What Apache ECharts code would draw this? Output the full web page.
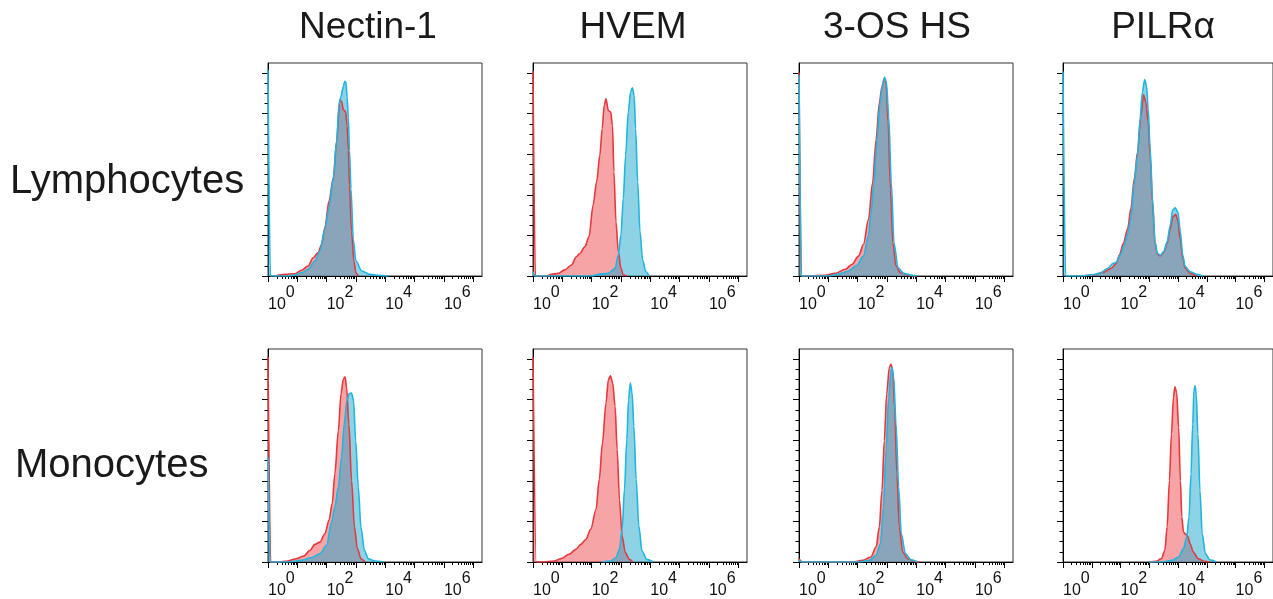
<!DOCTYPE html>
<html>
<head>
<meta charset="utf-8">
<script src="https://cdn.jsdelivr.net/npm/echarts@6/dist/echarts.min.js"></script>
<style>
  html, body { margin: 0; padding: 0; background: #fff; }
  #chart { width: 1273px; height: 599px; }
</style>
</head>
<body>
<div id="chart"></div>
<script>
// labels
const columns = ['Nectin-1', 'HVEM', '3-OS HS', 'PILRα'];
const rows = ['Lymphocytes', 'Monocytes'];
const decadeLabels = [0, 2, 4, 6];
const yMajorTicks = [0, 20, 40, 60, 80, 100];

// histograms: [log10 intensity, % of max]
const nectinLymRed = [[0.23,0],[0.57,0.8],[0.91,1.1],[1.14,2.8],[1.37,4.9],[1.54,9],[1.71,11.5],[1.83,15.6],[1.94,23.8],[2.08,36.9],[2.23,48.4],[2.34,66.4],[2.45,86.9],[2.51,86],[2.57,82],[2.65,81],[2.7,74],[2.74,62],[2.78,45],[2.85,22],[2.93,7.4],[3.0,1.5],[3.08,0]];
const nectinLymCyan = [[0,101.6],[0.08,0],[0.68,0],[0.91,0.5],[1.14,1.6],[1.37,3.3],[1.6,7.4],[1.77,12.3],[1.94,23],[2.08,33.6],[2.23,48.4],[2.34,66.4],[2.42,84.4],[2.49,88.5],[2.57,93.4],[2.62,96],[2.66,95.5],[2.7,88],[2.74,78],[2.78,62],[2.83,43],[2.91,18],[3.0,7.4],[3.2,2.5],[3.48,0.8],[3.88,0.2],[4.1,0]];

const hvemLymRed = [[0,101],[0.08,0],[0.46,0],[0.63,0.8],[0.86,1.3],[1.08,3],[1.31,5.4],[1.48,9.5],[1.6,11.1],[1.77,14.4],[1.91,19.3],[2.05,34.9],[2.17,46.4],[2.28,59.5],[2.36,72.6],[2.43,84.1],[2.49,87.4],[2.57,81.6],[2.65,80.8],[2.71,74.3],[2.76,51.3],[2.83,26.7],[2.91,12],[3.0,3.8],[3.08,0.5],[3.2,0]];
const hvemLymCyan = [[0,2],[0.06,0],[2.0,0],[2.23,0.8],[2.57,1.3],[2.8,3.8],[2.91,10.3],[3.0,20.2],[3.08,38.2],[3.16,59.5],[3.25,80.8],[3.33,90.7],[3.39,92.8],[3.45,89],[3.5,72.6],[3.57,46.4],[3.65,21.8],[3.74,7.9],[3.85,2.1],[3.96,0]];

const os3LymRed = [[0,100.3],[0.08,0],[0.89,0.3],[1.23,1.3],[1.58,3.3],[1.8,5.7],[2.03,9.8],[2.2,15.6],[2.37,27.9],[2.51,45.9],[2.63,67.2],[2.74,85.2],[2.83,93.4],[2.91,97.5],[2.97,95],[3.04,75.4],[3.12,42.6],[3.2,16.4],[3.31,4.9],[3.46,1.6],[3.74,0.3],[3.97,0]];
const os3LymCyan = [[0,99],[0.08,0],[1.0,0],[1.35,1],[1.69,2.5],[1.97,5.2],[2.2,9.8],[2.37,20],[2.45,30],[2.55,45],[2.66,67],[2.76,85],[2.84,93],[2.92,97.9],[2.98,95.9],[3.06,78.7],[3.15,45.9],[3.24,16.4],[3.38,4.1],[3.57,1.3],[3.86,0.3],[4.03,0]];

const pilrLymRed = [[0.71,0],[1.05,0.5],[1.39,1.8],[1.68,3.8],[1.85,6.2],[1.96,10.3],[2.1,16.1],[2.25,23.4],[2.36,33.3],[2.48,48],[2.59,61.1],[2.71,79.2],[2.8,89.3],[2.88,85.7],[2.96,75.9],[3.03,59.5],[3.11,36.6],[3.2,16.1],[3.28,10.7],[3.39,10],[3.5,11.6],[3.62,16.1],[3.73,23.4],[3.82,29.2],[3.92,30.3],[3.99,27.5],[4.08,17.7],[4.16,8.7],[4.25,3.8],[4.42,1.3],[4.65,0]];
const pilrLymCyan = [[0,100.8],[0.09,0],[0.59,0],[0.94,0.5],[1.28,1.3],[1.56,3.8],[1.74,6.2],[1.85,6.7],[1.99,10.3],[2.13,15.2],[2.25,21],[2.36,28.4],[2.48,46.4],[2.59,59.5],[2.67,75.9],[2.76,90.7],[2.84,96.9],[2.9,93.9],[2.96,82.5],[3.03,62.8],[3.11,38.2],[3.2,16.9],[3.28,11.1],[3.39,10.3],[3.5,12],[3.62,16.9],[3.73,25.1],[3.81,32.5],[3.9,33.6],[3.99,31.6],[4.08,21.8],[4.16,10.3],[4.25,4.6],[4.42,2.1],[4.65,0.8],[4.87,0]];

const nectinMonRed = [[0,101],[0.09,0],[0.34,0],[0.68,0.5],[0.97,1.6],[1.2,2.8],[1.43,5.7],[1.6,8.7],[1.77,9.8],[1.94,13.9],[2.08,20.5],[2.19,28.7],[2.28,43.4],[2.4,64.8],[2.49,82.8],[2.57,90.2],[2.63,91.3],[2.68,86.1],[2.76,68],[2.85,40.2],[2.95,17.2],[3.05,6.6],[3.17,1.6],[3.31,0]];
const nectinMonCyan = [[0,51.6],[0.07,0],[0.68,0],[1.14,0.8],[1.48,2.1],[1.77,4.1],[2.0,8.2],[2.17,19.7],[2.28,27],[2.4,36.9],[2.51,51.6],[2.6,68],[2.69,79.5],[2.77,83.1],[2.85,83.3],[2.92,79.5],[2.99,59.8],[3.08,36.9],[3.17,17.2],[3.29,5.7],[3.42,1.6],[3.65,0.5],[3.94,0]];

const hvemMonRed = [[0,101],[0.11,0],[0.32,0],[0.72,0.5],[0.95,1.6],[1.23,3.8],[1.46,6.2],[1.63,8.7],[1.8,11.1],[1.97,16.1],[2.15,25.9],[2.26,40.7],[2.37,58.7],[2.49,78.4],[2.57,89.8],[2.64,91.8],[2.72,88.2],[2.8,76.7],[2.87,55.4],[2.95,30.8],[3.04,12.8],[3.15,4.6],[3.29,1.3],[3.4,0]];
const hvemMonCyan = [[2.37,0],[2.66,0.5],[2.83,2.1],[2.95,6.2],[3.04,16.1],[3.12,35.7],[3.2,60.3],[3.26,80],[3.32,88.2],[3.38,83.3],[3.44,66.9],[3.52,40.7],[3.61,17.7],[3.72,5.4],[3.88,1.3],[4.09,0]];

const os3MonRed = [[0,1.6],[0.11,0],[1.83,0],[2.17,0.8],[2.45,2.5],[2.63,7.4],[2.74,17.2],[2.83,35.2],[2.91,59.8],[2.99,82.8],[3.08,95.9],[3.14,97.5],[3.2,94.3],[3.26,76.2],[3.34,43.4],[3.42,17.2],[3.54,4.9],[3.71,1.6],[3.94,0.3],[4.11,0]];
const os3MonCyan = [[0,0.8],[0.09,0],[2.05,0],[2.4,0.8],[2.63,3.3],[2.78,9],[2.88,27],[2.97,54.9],[3.06,81.1],[3.13,93.4],[3.17,95.9],[3.23,91],[3.31,68],[3.4,36.9],[3.49,13.9],[3.63,4.1],[3.82,1.1],[4.05,0]];

const pilrMonRed = [[2.99,0],[3.22,0.3],[3.42,1.6],[3.54,5.7],[3.62,17.2],[3.7,40.2],[3.77,63.1],[3.84,81.1],[3.89,86.4],[3.95,83.6],[4.02,66.4],[4.08,40.2],[4.13,22.1],[4.19,14.8],[4.27,13.6],[4.34,12.6],[4.42,9],[4.53,4.9],[4.7,1.6],[4.93,0.3],[5.1,0]];
const pilrMonCyan = [[2.99,0],[3.45,0],[3.79,0.8],[4.02,2.5],[4.19,6.6],[4.3,12.3],[4.38,22.1],[4.45,43.4],[4.51,68],[4.55,84.4],[4.59,86.9],[4.63,82.8],[4.69,63.1],[4.76,35.2],[4.84,13.9],[4.95,4.1],[5.1,1.1],[5.33,0]];

const panels = [
  [nectinLymRed, nectinLymCyan], [hvemLymRed, hvemLymCyan], [os3LymRed, os3LymCyan], [pilrLymRed, pilrLymCyan],
  [nectinMonRed, nectinMonCyan], [hvemMonRed, hvemMonCyan], [os3MonRed, os3MonCyan], [pilrMonRed, pilrMonCyan]
];

// layout
const colLeft = [268, 533, 799, 1063];
const rowTop = [63, 349];
const boxW = 214, boxH = 213;
const xMax = 7.3, yMax = 105;
const FONT = '"Liberation Sans", Arial, Helvetica, sans-serif';

const xMajor = [0, 1, 2, 3, 4, 5, 6, 7];
const xMinor = [];
for (let n = 0; n < 7; n++) for (let k = 2; k <= 9; k++) xMinor.push(n + Math.log10(k));
const yMinor = [];
for (let v = 5; v < 100; v += 5) if (v % 20) yMinor.push(v);

const RED = '#e8383d', RED_FILL = 'rgba(238,64,72,0.48)';
const CYAN = '#1fb6e0', CYAN_FILL = 'rgba(30,165,205,0.5)';

const grid = [], xAxis = [], yAxis = [], series = [];
panels.forEach((p, i) => {
  const r = Math.floor(i / 4), c = i % 4;
  grid.push({ left: colLeft[c], top: rowTop[r], width: boxW, height: boxH,
    show: true, borderColor: '#333', borderWidth: 1, backgroundColor: 'transparent' });
  const base = { type: 'value', gridIndex: i, min: 0, max: xMax, position: 'bottom', splitLine: { show: false } };
  xAxis.push(Object.assign({}, base, {
    axisLine: { show: true, onZero: false, lineStyle: { color: '#000', width: 1 } },
    axisTick: { show: true, customValues: xMajor, length: 6, lineStyle: { color: '#000' } },
    axisLabel: {
      show: true, customValues: decadeLabels, align: 'left', margin: 9,
      formatter: v => '{b|10}{s|' + v + '}',
      rich: {
        b: { fontFamily: FONT, fontSize: 16, color: '#111', lineHeight: 39 },
        s: { fontFamily: FONT, fontSize: 16, color: '#111', lineHeight: 15, verticalAlign: 'top' }
      }
    }
  }));
  xAxis.push(Object.assign({}, base, {
    axisLine: { show: false },
    axisTick: { show: true, customValues: xMinor, length: 3, lineStyle: { color: '#000' } },
    axisLabel: { show: false }
  }));
  const ybase = { type: 'value', gridIndex: i, min: 0, max: yMax, position: 'left', splitLine: { show: false }, axisLabel: { show: false } };
  yAxis.push(Object.assign({}, ybase, {
    axisLine: { show: true, onZero: false, lineStyle: { color: '#000', width: 1 } },
    axisTick: { show: true, customValues: yMajorTicks, length: 6, lineStyle: { color: '#000' } }
  }));
  yAxis.push(Object.assign({}, ybase, {
    axisLine: { show: false },
    axisTick: { show: true, customValues: yMinor, length: 3.5, lineStyle: { color: '#000' } }
  }));
  [[p[0], RED, RED_FILL], [p[1], CYAN, CYAN_FILL]].forEach(([data, line, fill]) => {
    series.push({
      type: 'line', xAxisIndex: i * 2, yAxisIndex: i * 2, data: data,
      smooth: 0.3, smoothMonotone: 'x', showSymbol: false, symbol: 'none',
      lineStyle: { color: line, width: 1.6 }, areaStyle: { color: fill, opacity: 1 },
      clip: true, silent: true
    });
  });
});

const titleX = [368, 633, 897, 1163];
const graphic = columns.map((t, i) => ({
  type: 'text', x: titleX[i], y: 28,
  style: { text: t, fill: '#1a1a1a', font: '37px ' + FONT, textAlign: 'center', textVerticalAlign: 'middle' }
})).concat([
  { type: 'text', x: 10, y: 182, style: { text: rows[0], fill: '#1a1a1a', font: '40px ' + FONT, textAlign: 'left', textVerticalAlign: 'middle' } },
  { type: 'text', x: 15, y: 466, style: { text: rows[1], fill: '#1a1a1a', font: '40px ' + FONT, textAlign: 'left', textVerticalAlign: 'middle' } }
]);

const chart = echarts.init(document.getElementById('chart'), null, { renderer: 'canvas' });
chart.setOption({ animation: false, grid, xAxis, yAxis, series, graphic });
</script>
</body>
</html>
